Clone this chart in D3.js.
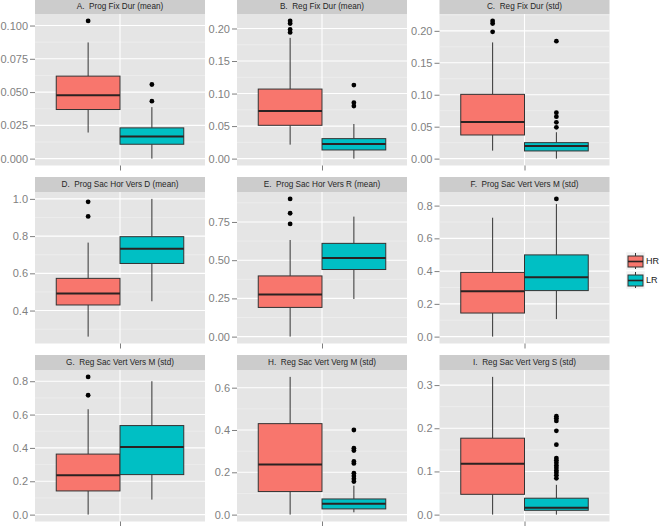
<!DOCTYPE html>
<html><head><meta charset="utf-8">
<script src="https://cdn.jsdelivr.net/npm/d3@7"></script>
<style>body{margin:0;background:#fff}svg{display:block}</style>
</head><body><svg id="chart" width="660" height="526"></svg>
<script>
const panelTitles = ["A.  Prog Fix Dur (mean)","B.  Reg Fix Dur (mean)","C.  Reg Fix Dur (std)",
  "D.  Prog Sac Hor Vers D (mean)","E.  Prog Sac Hor Vers R (mean)","F.  Prog Sac Vert Vers M (std)",
  "G.  Reg Sac Vert Vers M (std)","H.  Reg Sac Vert Verg M (std)","I.  Reg Sac Vert Verg S (std)"];
const groups = ["HR","LR"];
const groupColors = ["#F8766D","#00BFC4"];
const tickValues = [
  [0,0.025,0.05,0.075,0.1],[0,0.05,0.1,0.15,0.2],[0,0.05,0.1,0.15,0.2],
  [0.4,0.6,0.8,1.0],[0,0.25,0.5,0.75],[0,0.2,0.4,0.6,0.8],
  [0,0.2,0.4,0.6,0.8],[0,0.2,0.4,0.6],[0,0.1,0.2,0.3]];
const tickLabels = [
  ["0.000","0.025","0.050","0.075","0.100"],["0.00","0.05","0.10","0.15","0.20"],["0.00","0.05","0.10","0.15","0.20"],
  ["0.4","0.6","0.8","1.0"],["0.00","0.25","0.50","0.75"],["0.0","0.2","0.4","0.6","0.8"],
  ["0.0","0.2","0.4","0.6","0.8"],["0.0","0.2","0.4","0.6"],["0.0","0.1","0.2","0.3"]];
// [lower whisker, Q1, median, Q3, upper whisker]
const hrBoxes = [
  [0.0196,0.0369,0.0477,0.0620,0.0873],
  [0.0215,0.0512,0.0732,0.1069,0.1856],
  [0.0125,0.0370,0.0573,0.1006,0.1819],
  [0.26,0.43,0.492,0.573,0.765],
  [0,0.191,0.276,0.397,0.632],
  [0,0.144,0.277,0.392,0.726],
  [0,0.142,0.236,0.363,0.632],
  [0,0.109,0.237,0.430,0.651],
  [0,0.047,0.118,0.177,0.319]];
const lrBoxes = [
  [0,0.0108,0.0166,0.0231,0.0387],
  [0,0.0133,0.0226,0.0307,0.0532],
  [0,0.012,0.0198,0.025,0.0413],
  [0.45,0.653,0.732,0.797,1.0],
  [0.246,0.439,0.515,0.610,0.785],
  [0.107,0.281,0.363,0.499,0.810],
  [0.09,0.24,0.406,0.534,0.80],
  [0.011,0.027,0.051,0.074,0.137],
  [0,0.010,0.016,0.038,0.069]];
const hrOutliers = [
  [0.1035],
  [0.1939,0.1985,0.2077,0.2117],
  [0.1984,0.2115,0.2156],
  [0.906,0.984],
  [0.737,0.807,0.901],
  [],
  [0.716,0.826],
  [],
  []];
const lrOutliers = [
  [0.0432,0.0557],
  [0.0808,0.0859,0.1131],
  [0.049,0.0568,0.0656,0.0719,0.1839],
  [],
  [],
  [0.841],
  [],
  [0.156,0.169,0.182,0.196,0.242,0.251,0.303,0.314,0.40],
  [0.084,0.091,0.097,0.102,0.108,0.114,0.120,0.126,0.131,0.162,0.194,0.217,0.223,0.228]];

const svg = d3.select("#chart");
const font = "'Liberation Sans', Arial, Helvetica, sans-serif";
const colX = [35, 237, 439.5];
const panelW = 170;
const rowTop = [14, 192, 370];
const panelH = 151.5;
const stripH = 15;

panelTitles.forEach((title, i) => {
  const col = i % 3, row = Math.floor(i / 3);
  const x0 = colX[col], y0 = rowTop[row];
  const g = svg.append("g");
  const allVals = hrBoxes[i].concat(lrBoxes[i], hrOutliers[i], lrOutliers[i]);
  const lo = d3.min(allVals), hi = d3.max(allVals), r = hi - lo;
  const y = d3.scaleLinear().domain([lo - 0.05 * r, hi + 0.05 * r]).range([y0 + panelH, y0]);
  const cx = x0 + panelW / 2;
  const x = d3.scaleBand().domain(groups).range([cx - 0.375 * panelW, cx + 0.375 * panelW]).padding(0);
  const xAxisScale = d3.scalePoint().domain(["all"]).range([x0, x0 + panelW]).padding(0.5);

  // strip
  g.append("rect").attr("x", x0).attr("y", y0 - stripH).attr("width", panelW).attr("height", stripH).attr("fill", "#CCCCCC");
  g.append("text").attr("x", cx).attr("y", y0 - stripH / 2).attr("dy", "0.35em")
    .attr("text-anchor", "middle").attr("font-family", font).attr("font-size", "8.2px")
    .attr("fill", "#262626").style("white-space", "pre").text(title);
  // panel bg
  g.append("rect").attr("x", x0).attr("y", y0).attr("width", panelW).attr("height", panelH).attr("fill", "#E5E5E5");
  // minor grid
  const tv = tickValues[i];
  const step = tv[1] - tv[0];
  const minors = [];
  for (let k = -1; k < tv.length; k++) {
    const m = tv[0] + (k + 0.5) * step;
    if (m > y.domain()[0] && m < y.domain()[1]) minors.push(m);
  }
  g.selectAll(".minor").data(minors).enter().append("line")
    .attr("x1", x0).attr("x2", x0 + panelW).attr("y1", d => y(d)).attr("y2", d => y(d))
    .attr("stroke", "#F2F2F2").attr("stroke-width", 0.6);
  g.selectAll(".major").data(tv).enter().append("line")
    .attr("x1", x0).attr("x2", x0 + panelW).attr("y1", d => y(d)).attr("y2", d => y(d))
    .attr("stroke", "#FFFFFF").attr("stroke-width", 1.1);
  g.append("line").attr("x1", xAxisScale("all")).attr("x2", xAxisScale("all"))
    .attr("y1", y0).attr("y2", y0 + panelH).attr("stroke", "#FFFFFF").attr("stroke-width", 1.1);

  // y axis
  const ya = g.append("g").attr("transform", `translate(${x0},0)`)
    .call(d3.axisLeft(y).tickValues(tv).tickFormat((d, j) => tickLabels[i][j]).tickSize(5).tickPadding(2));
  ya.select(".domain").remove();
  ya.selectAll("line").attr("stroke", "#7F7F7F");
  ya.selectAll("text").attr("font-family", font).attr("font-size", "11px").attr("fill", "#7F7F7F");
  // x axis (single empty tick)
  const xa = g.append("g").attr("transform", `translate(0,${y0 + panelH})`)
    .call(d3.axisBottom(xAxisScale).tickFormat("").tickSize(5));
  xa.select(".domain").remove();
  xa.selectAll("line").attr("stroke", "#7F7F7F");

  // boxes
  [hrBoxes[i], lrBoxes[i]].forEach((b, gi) => {
    const grp = groups[gi];
    const bx = x(grp), bw = x.bandwidth(), mx = bx + bw / 2;
    g.append("line").attr("x1", mx).attr("x2", mx).attr("y1", y(b[4])).attr("y2", y(b[3]))
      .attr("stroke", "#333333").attr("stroke-width", 1);
    g.append("line").attr("x1", mx).attr("x2", mx).attr("y1", y(b[1])).attr("y2", y(b[0]))
      .attr("stroke", "#333333").attr("stroke-width", 1);
    g.append("rect").attr("x", bx).attr("y", y(b[3])).attr("width", bw).attr("height", y(b[1]) - y(b[3]))
      .attr("fill", groupColors[gi]).attr("stroke", "#333333").attr("stroke-width", 1);
    g.append("line").attr("x1", bx).attr("x2", bx + bw).attr("y1", y(b[2])).attr("y2", y(b[2]))
      .attr("stroke", "#2B2222").attr("stroke-width", 2);
    const outs = gi === 0 ? hrOutliers[i] : lrOutliers[i];
    g.selectAll(null).data(outs).enter().append("circle")
      .attr("cx", mx).attr("cy", d => y(d)).attr("r", 2.4).attr("fill", "#000000");
  });
});

// legend
const legendTops = [252, 271];
groups.forEach((grp, gi) => {
  const t = legendTops[gi];
  const lg = svg.append("g");
  lg.append("rect").attr("x", 626).attr("y", t).attr("width", 19).attr("height", 18)
    .attr("fill", "#F2F2F2").attr("stroke", "#FFFFFF").attr("stroke-width", 0.5);
  lg.append("line").attr("x1", 635.5).attr("x2", 635.5).attr("y1", t + 1).attr("y2", t + 17)
    .attr("stroke", "#333333").attr("stroke-width", 1);
  lg.append("rect").attr("x", 628).attr("y", t + 4).attr("width", 15).attr("height", 11)
    .attr("fill", groupColors[gi]).attr("stroke", "#333333").attr("stroke-width", 1);
  lg.append("line").attr("x1", 628).attr("x2", 643).attr("y1", t + 9.5).attr("y2", t + 9.5)
    .attr("stroke", "#2B2222").attr("stroke-width", 1.6);
  lg.append("text").attr("x", 646).attr("y", t + 9).attr("dy", "0.35em")
    .attr("font-family", font).attr("font-size", "9px").attr("fill", "#1A1A1A").text(grp);
});
</script></body></html>
